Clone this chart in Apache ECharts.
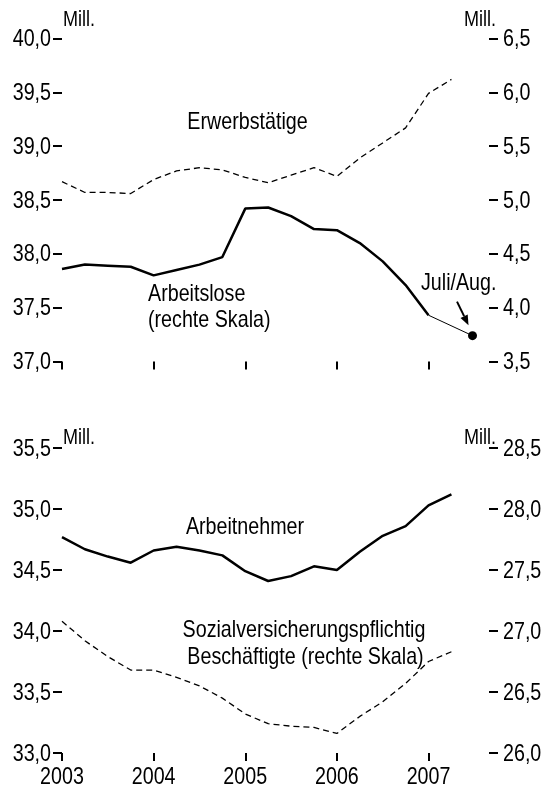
<!DOCTYPE html>
<html>
<head>
<meta charset="utf-8">
<script src="https://cdn.jsdelivr.net/npm/echarts@6/dist/echarts.min.js"></script>
<style>
  html, body { margin: 0; padding: 0; background: #fff; }
  #chart { width: 548px; height: 785px; }
</style>
</head>
<body>
<div id="chart"></div>
<script>
// quarterly observations, plotted at the start of each quarter
const quarters = [2003, 2003.25, 2003.5, 2003.75, 2004, 2004.25, 2004.5, 2004.75,
  2005, 2005.25, 2005.5, 2005.75, 2006, 2006.25, 2006.5, 2006.75, 2007, 2007.25];
const yearTicks = [2003, 2004, 2005, 2006, 2007];

// tick labels of the four value axes
const ticksTopLeft = [37, 37.5, 38, 38.5, 39, 39.5, 40];
const ticksTopRight = [3.5, 4, 4.5, 5, 5.5, 6, 6.5];
const ticksBottomLeft = [33, 33.5, 34, 34.5, 35, 35.5];
const ticksBottomRight = [26, 26.5, 27, 27.5, 28, 28.5];

// Mill., left scale top panel
const erwerbstaetige = [38.67, 38.57, 38.57, 38.56, 38.69, 38.77, 38.80, 38.78,
  38.71, 38.66, 38.73, 38.80, 38.72, 38.89, 39.03, 39.17, 39.49, 39.62];
// Mill., right scale top panel (up to Q1 2007)
const arbeitslose = [4.36, 4.40, 4.39, 4.38, 4.30, 4.35, 4.40, 4.47,
  4.92, 4.93, 4.85, 4.73, 4.72, 4.60, 4.43, 4.21, 3.93];
// latest value, July/August 2007
const arbeitsloseJuliAug = [2007.48, 3.74];

// Mill., left scale bottom panel
const arbeitnehmer = [34.77, 34.67, 34.61, 34.56, 34.66, 34.69, 34.66, 34.62,
  34.49, 34.41, 34.45, 34.53, 34.50, 34.65, 34.78, 34.86, 35.03, 35.12];
// Mill., right scale bottom panel
const svBeschaeftigte = [27.08, 26.92, 26.79, 26.68, 26.68, 26.62, 26.55, 26.45,
  26.32, 26.24, 26.22, 26.21, 26.16, 26.30, 26.42, 26.57, 26.75, 26.83];

// narrow Helvetica look: Liberation Sans squeezed horizontally
const FONT = '"Liberation Sans", Arial, sans-serif';
const NARROW = 0.82;
const X_MAX = 2007.66;

const pairs = (xs, ys) => ys.map((v, i) => [xs[i], v]);
const comma = v => v.toFixed(1).replace('.', ',');

function xAxis(gridIndex) {
  return {
    type: 'value', gridIndex, min: 2003, max: X_MAX,
    axisLine: { show: false },
    splitLine: { show: false },
    axisTick: { show: true, length: 8, customValues: yearTicks, lineStyle: { color: '#000', width: 2 } },
    axisLabel: { show: false }
  };
}

function yAxis(gridIndex, position, min, max) {
  return {
    type: 'value', gridIndex, position, min, max, interval: 0.5,
    axisLine: { show: false },
    splitLine: { show: false },
    axisTick: { show: true, length: 9, lineStyle: { color: '#000', width: 2 } },
    axisLabel: { show: false }
  };
}

const chart = echarts.init(document.getElementById('chart'), null, { renderer: 'canvas' });

chart.setOption({
  animation: false,
  backgroundColor: '#fff',
  grid: [
    { left: 62, top: 38.5, width: 427, height: 323 },
    { left: 62, top: 448, width: 427, height: 305 }
  ],
  xAxis: [xAxis(0), xAxis(1)],
  yAxis: [
    yAxis(0, 'left', 37, 40),
    yAxis(0, 'right', 3.5, 6.5),
    yAxis(1, 'left', 33, 35.5),
    yAxis(1, 'right', 26, 28.5)
  ],
  series: [
    {
      name: 'Erwerbstätige', type: 'line', xAxisIndex: 0, yAxisIndex: 0,
      data: pairs(quarters, erwerbstaetige), showSymbol: false,
      lineStyle: { color: '#000', width: 1.3, type: [6, 4] }
    },
    {
      name: 'Arbeitslose', type: 'line', xAxisIndex: 0, yAxisIndex: 1,
      data: pairs(quarters, arbeitslose), showSymbol: false,
      lineStyle: { color: '#000', width: 2.5 }
    },
    {
      name: 'Arbeitslose Juli/Aug.', type: 'line', xAxisIndex: 0, yAxisIndex: 1,
      data: [[quarters[arbeitslose.length - 1], arbeitslose[arbeitslose.length - 1]], arbeitsloseJuliAug],
      symbol: 'circle', symbolSize: (v, p) => (p.dataIndex === 1 ? 9 : 0),
      itemStyle: { color: '#000' }, clip: false,
      lineStyle: { color: '#000', width: 1 }
    },
    {
      name: 'Arbeitnehmer', type: 'line', xAxisIndex: 1, yAxisIndex: 2,
      data: pairs(quarters, arbeitnehmer), showSymbol: false,
      lineStyle: { color: '#000', width: 2.5 }
    },
    {
      name: 'Sozialversicherungspflichtig Beschäftigte', type: 'line', xAxisIndex: 1, yAxisIndex: 3,
      data: pairs(quarters, svBeschaeftigte), showSymbol: false,
      lineStyle: { color: '#000', width: 1.3, type: [6, 4] }
    }
  ]
});

const text = (str, x, y, align, size) => ({
  type: 'text', x, y, scaleX: NARROW,
  style: {
    text: str, fill: '#000', font: (size || 24) + 'px ' + FONT,
    align: align || 'center', verticalAlign: 'middle'
  }
});

// axis labels placed through the axes' own scales
const graphics = [];
const yLabels = (axisIndex, ticks, side) => {
  ticks.forEach(t => {
    const y = chart.convertToPixel({ yAxisIndex: axisIndex }, t);
    graphics.push(side === 'left' ? text(comma(t), 51, y + 1, 'right') : text(comma(t), 503, y + 1, 'left'));
  });
};
yLabels(0, ticksTopLeft, 'left');
yLabels(1, ticksTopRight, 'right');
yLabels(2, ticksBottomLeft, 'left');
yLabels(3, ticksBottomRight, 'right');
yearTicks.forEach(yr => {
  graphics.push(text(String(yr), chart.convertToPixel({ xAxisIndex: 1 }, yr), 777));
});

// unit labels
graphics.push(
  text('Mill.', 63, 20, 'left', 22),
  text('Mill.', 496, 20, 'right', 22),
  text('Mill.', 63, 438, 'left', 22),
  text('Mill.', 496, 438, 'right', 22)
);

// series captions
graphics.push(
  text('Erwerbstätige', 247.5, 122),
  text('Arbeitslose', 148, 294, 'left'),
  text('(rechte Skala)', 148, 320, 'left'),
  text('Juli/Aug.', 421, 283, 'left'),
  text('Arbeitnehmer', 245, 527),
  text('Sozialversicherungspflichtig', 304, 630),
  text('Beschäftigte (rechte Skala)', 305.5, 657)
);

// arrow to the latest point
const dot = chart.convertToPixel({ xAxisIndex: 0, yAxisIndex: 1 }, arbeitsloseJuliAug);
const tip = [dot[0] - 4, dot[1] - 10.5];
const tail = [dot[0] - 15.5, dot[1] - 34];
const dx = tip[0] - tail[0], dy = tip[1] - tail[1];
const len = Math.hypot(dx, dy), ux = dx / len, uy = dy / len;
const base = [tip[0] - ux * 10, tip[1] - uy * 10];
const px = -uy * 4, py = ux * 4;
graphics.push(
  {
    type: 'line',
    shape: { x1: tail[0], y1: tail[1], x2: base[0], y2: base[1] },
    style: { stroke: '#000', lineWidth: 2 }
  },
  {
    type: 'polygon',
    shape: { points: [tip, [base[0] + px, base[1] + py], [base[0] - px, base[1] - py]] },
    style: { fill: '#000' }
  }
);

chart.setOption({ graphic: graphics });

window.addEventListener('resize', () => chart.resize());
</script>
</body>
</html>
